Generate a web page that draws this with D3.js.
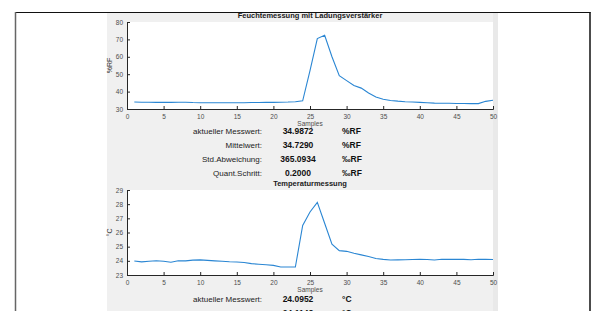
<!DOCTYPE html>
<html><head><meta charset="utf-8">
<script src="https://cdn.jsdelivr.net/npm/d3@7"></script>
<style>html,body{margin:0;padding:0;background:#fff;overflow:hidden}svg{display:block;font-family:"Liberation Sans",Arial,sans-serif}</style>
</head><body>
<svg id="c" width="595" height="311"></svg>
<script>
const samples = d3.range(1, 51);
const humidity = [34.0,33.9,33.9,33.8,33.8,33.8,33.9,33.9,33.7,33.6,33.6,33.6,33.6,33.6,33.6,33.6,33.7,33.7,33.8,33.8,33.9,34.0,34.2,34.7,52.0,70.5,72.4,60.0,49.2,46.3,43.5,42.0,39.2,36.9,35.6,34.9,34.5,34.2,34.0,33.8,33.6,33.4,33.3,33.3,33.2,33.2,33.1,33.1,34.4,35.0];
const temperature = [23.99,23.93,23.97,24.01,23.97,23.90,24.00,24.00,24.05,24.07,24.03,24.00,23.97,23.93,23.92,23.88,23.80,23.76,23.72,23.68,23.57,23.56,23.56,26.5,27.45,28.13,26.65,25.17,24.72,24.67,24.53,24.42,24.30,24.17,24.10,24.06,24.07,24.08,24.09,24.10,24.09,24.06,24.11,24.10,24.10,24.10,24.08,24.11,24.10,24.09];
const xTicks = [0,5,10,15,20,25,30,35,40,45,50];
const humTicks = [30,40,50,60,70,80];
const tempTicks = [23,24,25,26,27,28,29];
const titles = ["Feuchtemessung mit Ladungsverstärker","Temperaturmessung"];
const yLabels = ["%RF","°C"];
const humRows = [["aktueller Messwert:","34.9872","%RF"],["Mittelwert:","34.7290","%RF"],["Std.Abweichung:","365.0934","‰RF"],["Quant.Schritt:","0.2000","‰RF"]];
const tempRows = [["aktueller Messwert:","24.0952","°C"],["Mittelwert:","24.1143","°C"]];

const svg = d3.select("#c");
// panel
svg.append("rect").attr("x",107).attr("y",12).attr("width",386).attr("height",300).attr("fill","#f0f0f0");
svg.append("rect").attr("x",493).attr("y",12).attr("width",5).attr("height",300).attr("fill","#e9e9e9");
// frame
svg.append("line").attr("x1",15).attr("x2",590.5).attr("y1",12.5).attr("y2",12.5).attr("stroke","#111").attr("stroke-width",1.2);
svg.append("line").attr("x1",15.5).attr("x2",15.5).attr("y1",12).attr("y2",311).attr("stroke","#666").attr("stroke-width",1.5);
svg.append("line").attr("x1",590).attr("x2",590).attr("y1",12).attr("y2",311).attr("stroke","#111").attr("stroke-width",1.5);

const x = d3.scaleLinear().domain([0,50]).range([127,493]);

function plot(cfg){
  const y = d3.scaleLinear().domain(cfg.domain).range([cfg.bottom, cfg.top]);
  svg.append("rect").attr("x",127).attr("y",cfg.top).attr("width",366).attr("height",cfg.bottom-cfg.top).attr("fill","#fff");
  svg.append("text").attr("x",310).attr("y",cfg.top-4).attr("text-anchor","middle").attr("font-size",7.5).attr("font-weight","bold").attr("fill","#1a1a1a").text(cfg.title);
  const ya = svg.append("g").attr("transform","translate(127,0)").call(d3.axisLeft(y).tickValues(cfg.ticks).tickFormat(d3.format("d")).tickSize(-3).tickPadding(4));
  const xa = svg.append("g").attr("transform",`translate(0,${cfg.bottom})`).call(d3.axisBottom(x).tickValues(xTicks).tickFormat(d3.format("d")).tickSize(-3).tickPadding(5));
  [ya,xa].forEach(a=>{
    a.select(".domain").attr("stroke","#262626").attr("stroke-width",1);
    a.selectAll(".tick line").attr("stroke","#262626");
    a.selectAll("text").attr("font-size",6.5).attr("fill","#4d4d4d").attr("font-family","Liberation Sans, Arial, sans-serif");
  });
  svg.append("text").attr("transform",`translate(112,${(cfg.top+cfg.bottom)/2}) rotate(-90)`).attr("text-anchor","middle").attr("font-size",7).attr("fill","#333").text(cfg.ylabel);
  svg.append("text").attr("x",310).attr("y",cfg.bottom+17).attr("text-anchor","middle").attr("font-size",6.5).attr("fill","#4d4d4d").text("Samples");
  svg.append("path").datum(cfg.data).attr("fill","none").attr("stroke","#2a86d3").attr("stroke-width",1.1)
    .attr("d", d3.line().x((d,i)=>x(samples[i])).y(d=>y(d)));
  cfg.rows.forEach((r,i)=>{
    const yy = cfg.rowY + i*cfg.rowStep;
    svg.append("text").attr("x",262).attr("y",yy).attr("text-anchor","end").attr("font-size",8).attr("fill","#222").text(r[0]);
    svg.append("text").attr("x",298).attr("y",yy).attr("text-anchor","middle").attr("font-size",8.5).attr("font-weight","bold").attr("fill","#111").text(r[1]);
    svg.append("text").attr("x",342).attr("y",yy).attr("font-size",8.5).attr("font-weight","bold").attr("fill","#111").text(r[2]);
  });
}
plot({domain:[30,80],top:22,bottom:109,ticks:humTicks,title:titles[0],ylabel:yLabels[0],data:humidity,rows:humRows,rowY:134,rowStep:14});
plot({domain:[23,29],top:190,bottom:275,ticks:tempTicks,title:titles[1],ylabel:yLabels[1],data:temperature,rows:tempRows,rowY:302,rowStep:14});
</script>
</body></html>
